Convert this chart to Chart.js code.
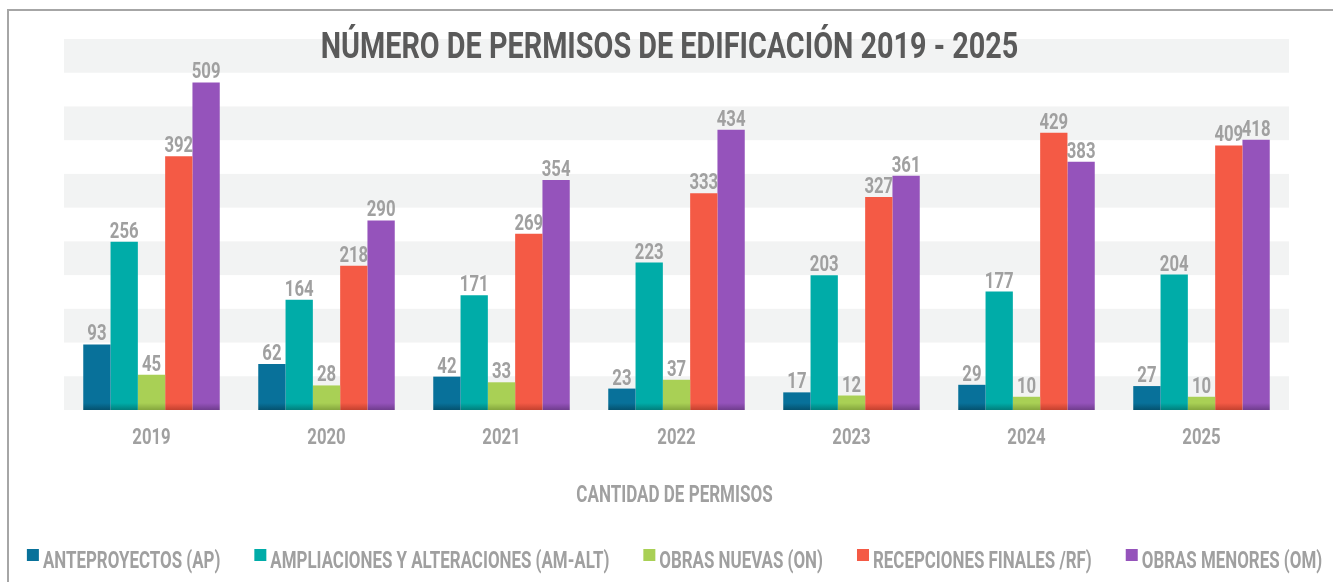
<!DOCTYPE html>
<html>
<head>
<meta charset="utf-8">
<script src="https://cdn.jsdelivr.net/npm/chart.js@4.4.1/dist/chart.umd.min.js"></script>
<style>
  html, body { margin: 0; padding: 0; background: #ffffff; }
  #frame { position: absolute; left: 7px; top: 9px; width: 1400px; height: 700px; border: 2px solid #a6a6a6; box-sizing: border-box; }
  #wrap { position: absolute; left: 0; top: 0; width: 1333px; height: 582px; }
</style>
</head>
<body>
<div id="frame"></div>
<div id="wrap"><canvas id="c" width="1333" height="582"></canvas></div>
<script>
// ---- data ----
const years = ['2019', '2020', '2021', '2022', '2023', '2024', '2025'];
const seriesNames = [
  'ANTEPROYECTOS (AP)',
  'AMPLIACIONES Y ALTERACIONES (AM-ALT)',
  'OBRAS NUEVAS (ON)',
  'RECEPCIONES FINALES /RF)',
  'OBRAS MENORES (OM)'
];
const anteproyectos = [93, 62, 42, 23, 17, 29, 27];
const ampliaciones  = [256, 164, 171, 223, 203, 177, 204];
const obrasNuevas   = [45, 28, 33, 37, 12, 10, 10];
const recepciones   = [392, 218, 269, 333, 327, 429, 409];
const obrasMenores  = [509, 290, 354, 434, 361, 383, 418];
const chartTitle = 'NÚMERO DE PERMISOS DE EDIFICACIÓN 2019 - 2025';
const xAxisTitle = 'CANTIDAD DE PERMISOS';

// ---- style ----
const colors = ['#08719a', '#00aca8', '#a9d055', '#f45a45', '#9553bb'];
const shades = ['#05526f', '#017f7c', '#85a63e', '#c4412f', '#703d8e'];
const FONT = "Roboto, 'DejaVu Sans Condensed', sans-serif";
const GREY = '#a0a0a0';
const TITLE_GREY = '#5a5a5a';
const Y_MIN = -11, Y_MAX = 578, BANDS = 11;

const allSeries = [anteproyectos, ampliaciones, obrasNuevas, recepciones, obrasMenores];

function barFill(i) {
  return (ctx) => {
    const area = ctx.chart.chartArea;
    if (!area) return colors[i];
    const g = ctx.chart.ctx.createLinearGradient(0, area.bottom - 7, 0, area.bottom);
    g.addColorStop(0, colors[i]);
    g.addColorStop(1, shades[i]);
    return g;
  };
}

// condensed text helper (real canvas text, horizontally narrowed)
function condText(c, text, x, y, size, color, align, sx) {
  c.save();
  c.font = 'bold ' + size + 'px ' + FONT;
  c.fillStyle = color;
  c.textAlign = align;
  c.textBaseline = 'alphabetic';
  c.translate(x, y);
  c.scale(sx, 1);
  c.fillText(text, 0, 0);
  c.restore();
}
function condWidth(c, text, size, sx) {
  c.save();
  c.font = 'bold ' + size + 'px ' + FONT;
  const w = c.measureText(text).width * sx;
  c.restore();
  return w;
}

const bandsPlugin = {
  id: 'bands',
  beforeDatasetsDraw(chart) {
    const y = chart.scales.y, a = chart.chartArea, c = chart.ctx;
    const t = y.ticks;
    c.save();
    c.fillStyle = '#f2f3f3';
    for (let i = 0; i < t.length - 1; i++) {
      if (i % 2 === 0) {
        const top = y.getPixelForValue(t[t.length - 1 - i].value);
        const bot = y.getPixelForValue(t[t.length - 2 - i].value);
        c.fillRect(a.left, top, a.right - a.left, bot - top);
      }
    }
    c.restore();
  }
};

const textPlugin = {
  id: 'texts',
  afterDatasetsDraw(chart) {
    const c = chart.ctx, a = chart.chartArea, xs = chart.scales.x;
    // value labels
    chart.data.datasets.forEach((ds, di) => {
      const meta = chart.getDatasetMeta(di);
      meta.data.forEach((el, j) => {
        condText(c, String(ds.data[j]), el.x, el.y - 4, 22, GREY, 'center', 0.76);
      });
    });
    // category labels
    years.forEach((lab, i) => {
      condText(c, lab, xs.getPixelForTick(i), a.bottom + 34, 22, GREY, 'center', 0.76);
    });
    // axis title
    const midX = (a.left + a.right) / 2;
    condText(c, xAxisTitle, midX - 2, a.bottom + 92, 23, GREY, 'center', 0.74);
    // chart title
    condText(c, chartTitle, chart.width / 2 + 3, 58, 36, TITLE_GREY, 'center', 0.80);
    // legend
    const size = 23, sx = 0.735, box = 12, gapBox = 4, gapItem = 34;
    const widths = seriesNames.map(s => condWidth(c, s, size, sx));
    const total = widths.reduce((p, w) => p + box + gapBox + w, 0) + gapItem * (seriesNames.length - 1);
    let x = midX - 2 - total / 2;
    const base = 568;
    seriesNames.forEach((s, i) => {
      c.fillStyle = colors[i];
      c.fillRect(x, base - 19, box, box);
      x += box + gapBox;
      condText(c, s, x, base, size, GREY, 'left', sx);
      x += widths[i] + gapItem;
    });
  }
};

new Chart(document.getElementById('c'), {
  type: 'bar',
  data: {
    labels: years,
    datasets: allSeries.map((d, i) => ({
      label: seriesNames[i],
      data: d,
      base: Y_MIN,
      backgroundColor: barFill(i),
      borderWidth: 0,
      barPercentage: 1.0,
      categoryPercentage: 0.78
    }))
  },
  options: {
    responsive: false,
    animation: false,
    devicePixelRatio: 1,
    layout: { padding: { left: 64, right: 44, top: 39, bottom: 172 } },
    plugins: {
      title: { display: false },
      legend: { display: false },
      tooltip: { enabled: false }
    },
    scales: {
      x: {
        display: false,
        grid: { display: false }
      },
      y: {
        display: false,
        min: Y_MIN,
        max: Y_MAX,
        afterBuildTicks(scale) {
          const step = (Y_MAX - Y_MIN) / BANDS;
          scale.ticks = Array.from({ length: BANDS + 1 }, (_, i) => ({ value: Y_MIN + i * step }));
        }
      }
    }
  },
  plugins: [bandsPlugin, textPlugin]
});
</script>
</body>
</html>
